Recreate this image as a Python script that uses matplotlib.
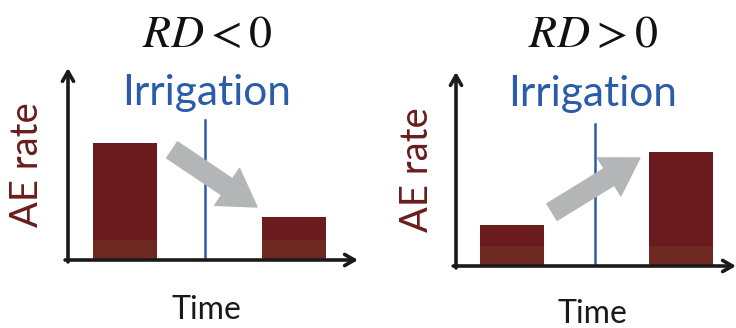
import matplotlib
matplotlib.use("Agg")
import matplotlib.pyplot as plt

plt.rcParams['font.family'] = ['Lato', 'DejaVu Sans']
plt.rcParams['mathtext.fontset'] = 'stix'

# data
titles = [r"$RD < 0$", r"$RD > 0$"]
before_after = ["before", "after"]
rates_neg = [6.2, 2.35]   # AE rate before / after irrigation, RD < 0
rates_pos = [2.2, 6.0]    # AE rate before / after irrigation, RD > 0
base_level = 1.15         # lighter lower part of each bar

BAR_TOP = '#6b1a1e'
BAR_LOW = '#6e2a20'
BLUE = '#2a5cab'
GRAY = '#b4b5b7'
RED_TXT = '#6b1c1c'

W, H = 736, 328
fig = plt.figure(figsize=(W / 100, H / 100), dpi=100)


def panel(rect, rates, title, xpos, bw, xline, arrow_from, arrow_to, irr_xy, time_y):
    x0, y0, w, h = rect
    ax = fig.add_axes([x0 / W, (H - y0) / H, w / W, h / H])
    ax.set_xlim(0, 10)
    ax.set_ylim(0, 10)
    ax.axis('off')

    ax.bar(xpos, rates, width=bw, color=BAR_TOP, bottom=-0.1)
    ax.bar(xpos, [base_level] * len(rates), width=bw, color=BAR_LOW, bottom=-0.1)

    # irrigation line
    ax.plot([xline, xline], [0, 7.3], color=BLUE, lw=1.8)
    ax.text(irr_xy[0], irr_xy[1], "Irrigation", color=BLUE, fontsize=30.5,
            ha='center', va='center')

    # axes arrows
    style = '->,head_length=0.7,head_width=0.4'
    ax.annotate("", xy=(10, 0), xytext=(-0.1, 0),
                arrowprops=dict(arrowstyle=style, lw=2.6, color='#1a1a1a',
                                shrinkA=0, shrinkB=0),
                annotation_clip=False)
    ax.annotate("", xy=(0, 10), xytext=(0, -0.1),
                arrowprops=dict(arrowstyle=style, lw=2.6, color='#1a1a1a',
                                shrinkA=0, shrinkB=0),
                annotation_clip=False)

    # trend arrow
    ax.annotate("", xy=arrow_to, xytext=arrow_from,
                arrowprops=dict(arrowstyle='simple,head_length=1.3,head_width=1.6,tail_width=0.7',
                                color=GRAY, mutation_scale=20, shrinkA=0, shrinkB=0))

    ax.text(-1.4, 4.95, "AE rate", color=RED_TXT, fontsize=27.5, rotation=90,
            ha='center', va='center')
    ax.text(irr_xy[0], time_y, "Time", color='#1a1a1a', fontsize=23,
            ha='center', va='center')

    # panel title
    cx = (x0 + irr_xy[0] / 10 * w) / W
    fig.text(cx, 1 - 34 / H, title, fontsize=33, ha='center', va='center',
             color='#111111')
    return ax


panel((68, 260, 290, 192), rates_neg, titles[0], [1.97, 7.79], 2.2, 4.72,
      (3.59, 5.73), (6.52, 2.76), (4.79, 8.7), -2.6)
panel((456, 266, 280, 194), rates_pos, titles[1], [2.0, 8.04], 2.29, 4.96,
      (3.43, 2.78), (6.57, 5.57), (4.89, 8.86), -2.45)

fig.savefig("out.png", dpi=100)
